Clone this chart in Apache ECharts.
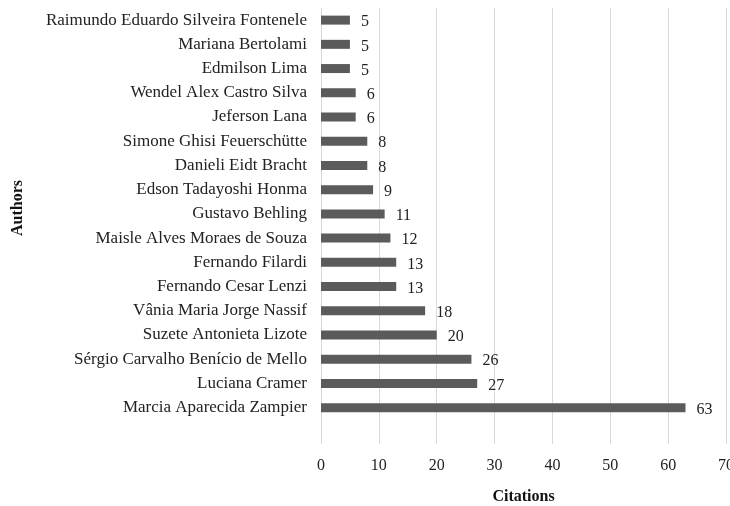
<!DOCTYPE html>
<html>
<head>
<meta charset="utf-8">
<script src="https://cdn.jsdelivr.net/npm/echarts@6/dist/echarts.min.js"></script>
<style>
  html, body { margin: 0; padding: 0; background: #fff; }
  #chart { width: 730px; height: 506px; }
</style>
</head>
<body>
<div id="chart"></div>
<script>
// Authors listed bottom to top; the leading blank row leaves a gap under the first bar
const authors = [
  '',
  'Marcia Aparecida Zampier',
  'Luciana Cramer',
  'Sérgio Carvalho Benício de Mello',
  'Suzete Antonieta Lizote',
  'Vânia Maria Jorge Nassif',
  'Fernando Cesar Lenzi',
  'Fernando Filardi',
  'Maisle Alves Moraes de Souza',
  'Gustavo Behling',
  'Edson Tadayoshi Honma',
  'Danieli Eidt Bracht',
  'Simone Ghisi Feuerschütte',
  'Jeferson Lana',
  'Wendel Alex Castro Silva',
  'Edmilson Lima',
  'Mariana Bertolami',
  'Raimundo Eduardo Silveira Fontenele'
];
const citations = ['-', 63, 27, 26, 20, 18, 13, 13, 12, 11, 9, 8, 8, 6, 6, 5, 5, 5];
const citationTicks = [0, 10, 20, 30, 40, 50, 60, 70];

const serif = '"Liberation Serif", "Times New Roman", serif';
const chart = echarts.init(document.getElementById('chart'));

chart.setOption({
  animation: false,
  backgroundColor: '#ffffff',
  grid: {
    left: 321, right: 4, top: 8, bottom: 62,
    containLabel: false,
    outerBoundsMode: 'none'
  },
  xAxis: {
    type: 'value',
    min: citationTicks[0],
    max: citationTicks[citationTicks.length - 1],
    interval: 10,
    axisLine: { show: false },
    axisTick: { show: false },
    splitLine: { show: true, lineStyle: { color: '#d9d9d9', width: 1 } },
    axisLabel: { color: '#222', fontFamily: serif, fontSize: 16, margin: 14 },
    name: 'Citations',
    nameLocation: 'middle',
    nameGap: 45,
    nameTextStyle: { color: '#111', fontFamily: serif, fontSize: 16, fontWeight: 'bold' }
  },
  yAxis: {
    type: 'category',
    data: authors,
    axisLine: { show: false },
    axisTick: { show: false },
    axisLabel: { color: '#222', fontFamily: serif, fontSize: 17, margin: 14 }
  },
  graphic: [{
    type: 'text',
    x: 18,
    y: 208,
    rotation: Math.PI / 2,
    style: {
      text: 'Authors',
      fill: '#111',
      font: 'bold 16px ' + serif,
      textAlign: 'center',
      textVerticalAlign: 'middle'
    }
  }],
  series: [{
    type: 'bar',
    data: citations,
    barWidth: 9,
    itemStyle: { color: '#5b5b5b' },
    label: {
      show: true,
      position: 'right',
      distance: 11,
      color: '#222',
      fontFamily: serif,
      fontSize: 16,
      offset: [0, 2]
    }
  }]
});
</script>
</body>
</html>
